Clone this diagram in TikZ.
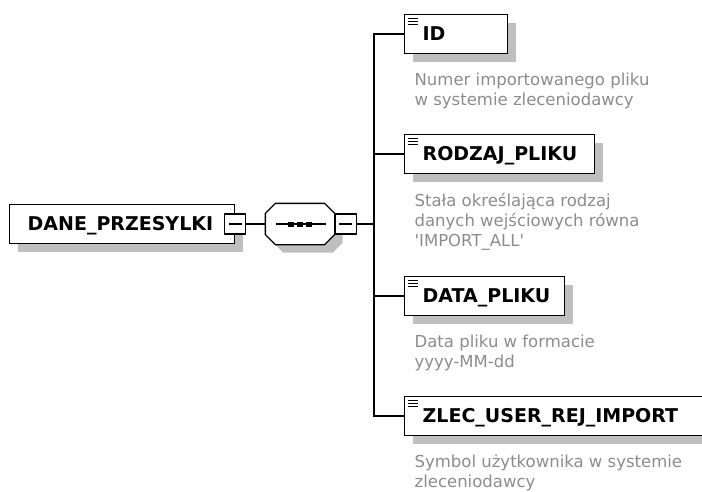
\documentclass[tikz,border=0pt]{standalone}
\usepackage{fontspec}
\setmainfont{DejaVu Sans}
\usetikzlibrary{shadows}

\tikzset{
  boxshadow/.style={drop shadow={shadow xshift=8pt,shadow yshift=-8pt,fill=black!25,opacity=1}},
  elem/.style={draw,fill=white,boxshadow,minimum height=39pt,inner xsep=18pt,inner ysep=0pt,
    anchor=west,align=left,text width=#1,text height=13.9pt,text depth=0pt,
    font=\fontsize{19}{23}\selectfont\bfseries},
  icon/.style={path picture={\foreach \dy in {4,7,10}
    \draw[line width=1pt] ([xshift=3pt,yshift=-\dy pt]path picture bounding box.north west) -- ++(10pt,0pt);}},
  note/.style={anchor=north west,inner sep=0pt,align=left,text=black!45,
    font=\fontsize{16.5}{20}\selectfont},
  minus/.style={draw,fill=white,minimum width=21pt,minimum height=20pt,inner sep=0pt,
    path picture={\draw ([xshift=4pt]path picture bounding box.west) -- ([xshift=-4pt]path picture bounding box.east);}},
  seqbox/.style={minimum width=68pt,minimum height=40pt,inner sep=0pt}
}

\begin{document}
\begin{tikzpicture}[x=1pt,y=-1pt,line width=1.3pt]
\useasboundingbox (0,0) rectangle (702,491);

\node[elem=189pt] (dane) at (9,224) {DANE\_PRZESYLKI};
\node[minus] (danemin) at (dane.east) {};
\node[seqbox] (seq) at (300,224) {};
\draw[fill=white,boxshadow] ([xshift=10pt]seq.north west) -- ([xshift=-10pt]seq.north east)
  -- ([yshift=-10pt]seq.north east) -- ([yshift=10pt]seq.south east)
  -- ([xshift=-10pt]seq.south east) -- ([xshift=10pt]seq.south west)
  -- ([yshift=10pt]seq.south west) -- ([yshift=-10pt]seq.north west) -- cycle;
\node[minus,anchor=west] (seqmin) at (seq.east) {};
\coordinate (fork) at (374,224);

\node[elem=67pt,icon] (id) at (404,34) {ID};
\node[elem=154pt,icon] (rodzaj) at (404,154) {RODZAJ\_PLIKU};
\node[elem=124pt,icon] (data) at (404,296) {DATA\_PLIKU};
\node[elem=262pt,icon] (zlec) at (404,416) {ZLEC\_USER\_REJ\_IMPORT};

\node[note] (idnote) at ([xshift=10pt,yshift=-18.5pt]id.south west)
  {Numer importowanego pliku\\w systemie zleceniodawcy};
\node[note] (rodzajnote) at ([xshift=10pt,yshift=-18.5pt]rodzaj.south west)
  {Stała określająca rodzaj\\danych wejściowych równa\\\textquotesingle IMPORT\_ALL\textquotesingle};
\node[note] (datanote) at ([xshift=10pt,yshift=-18.5pt]data.south west)
  {Data pliku w formacie\\yyyy-MM-dd};
\node[note] (zlecnote) at ([xshift=10pt,yshift=-18.5pt]zlec.south west)
  {Symbol użytkownika w systemie\\zleceniodawcy};

% sequence mark
\draw ([xshift=11pt]seq.west) -- ([xshift=-9pt]seq.east);
\foreach \dx in {-9,0,9}
  \fill ([xshift=\dx pt]seq.center) +(-3pt,-2.5pt) rectangle +(3pt,2.5pt);

\path
(danemin) edge (seq)
(seqmin) edge (fork);
\foreach \e in {id,rodzaj,data,zlec}
  \draw (fork) |- (\e.west);

\end{tikzpicture}
\end{document}
